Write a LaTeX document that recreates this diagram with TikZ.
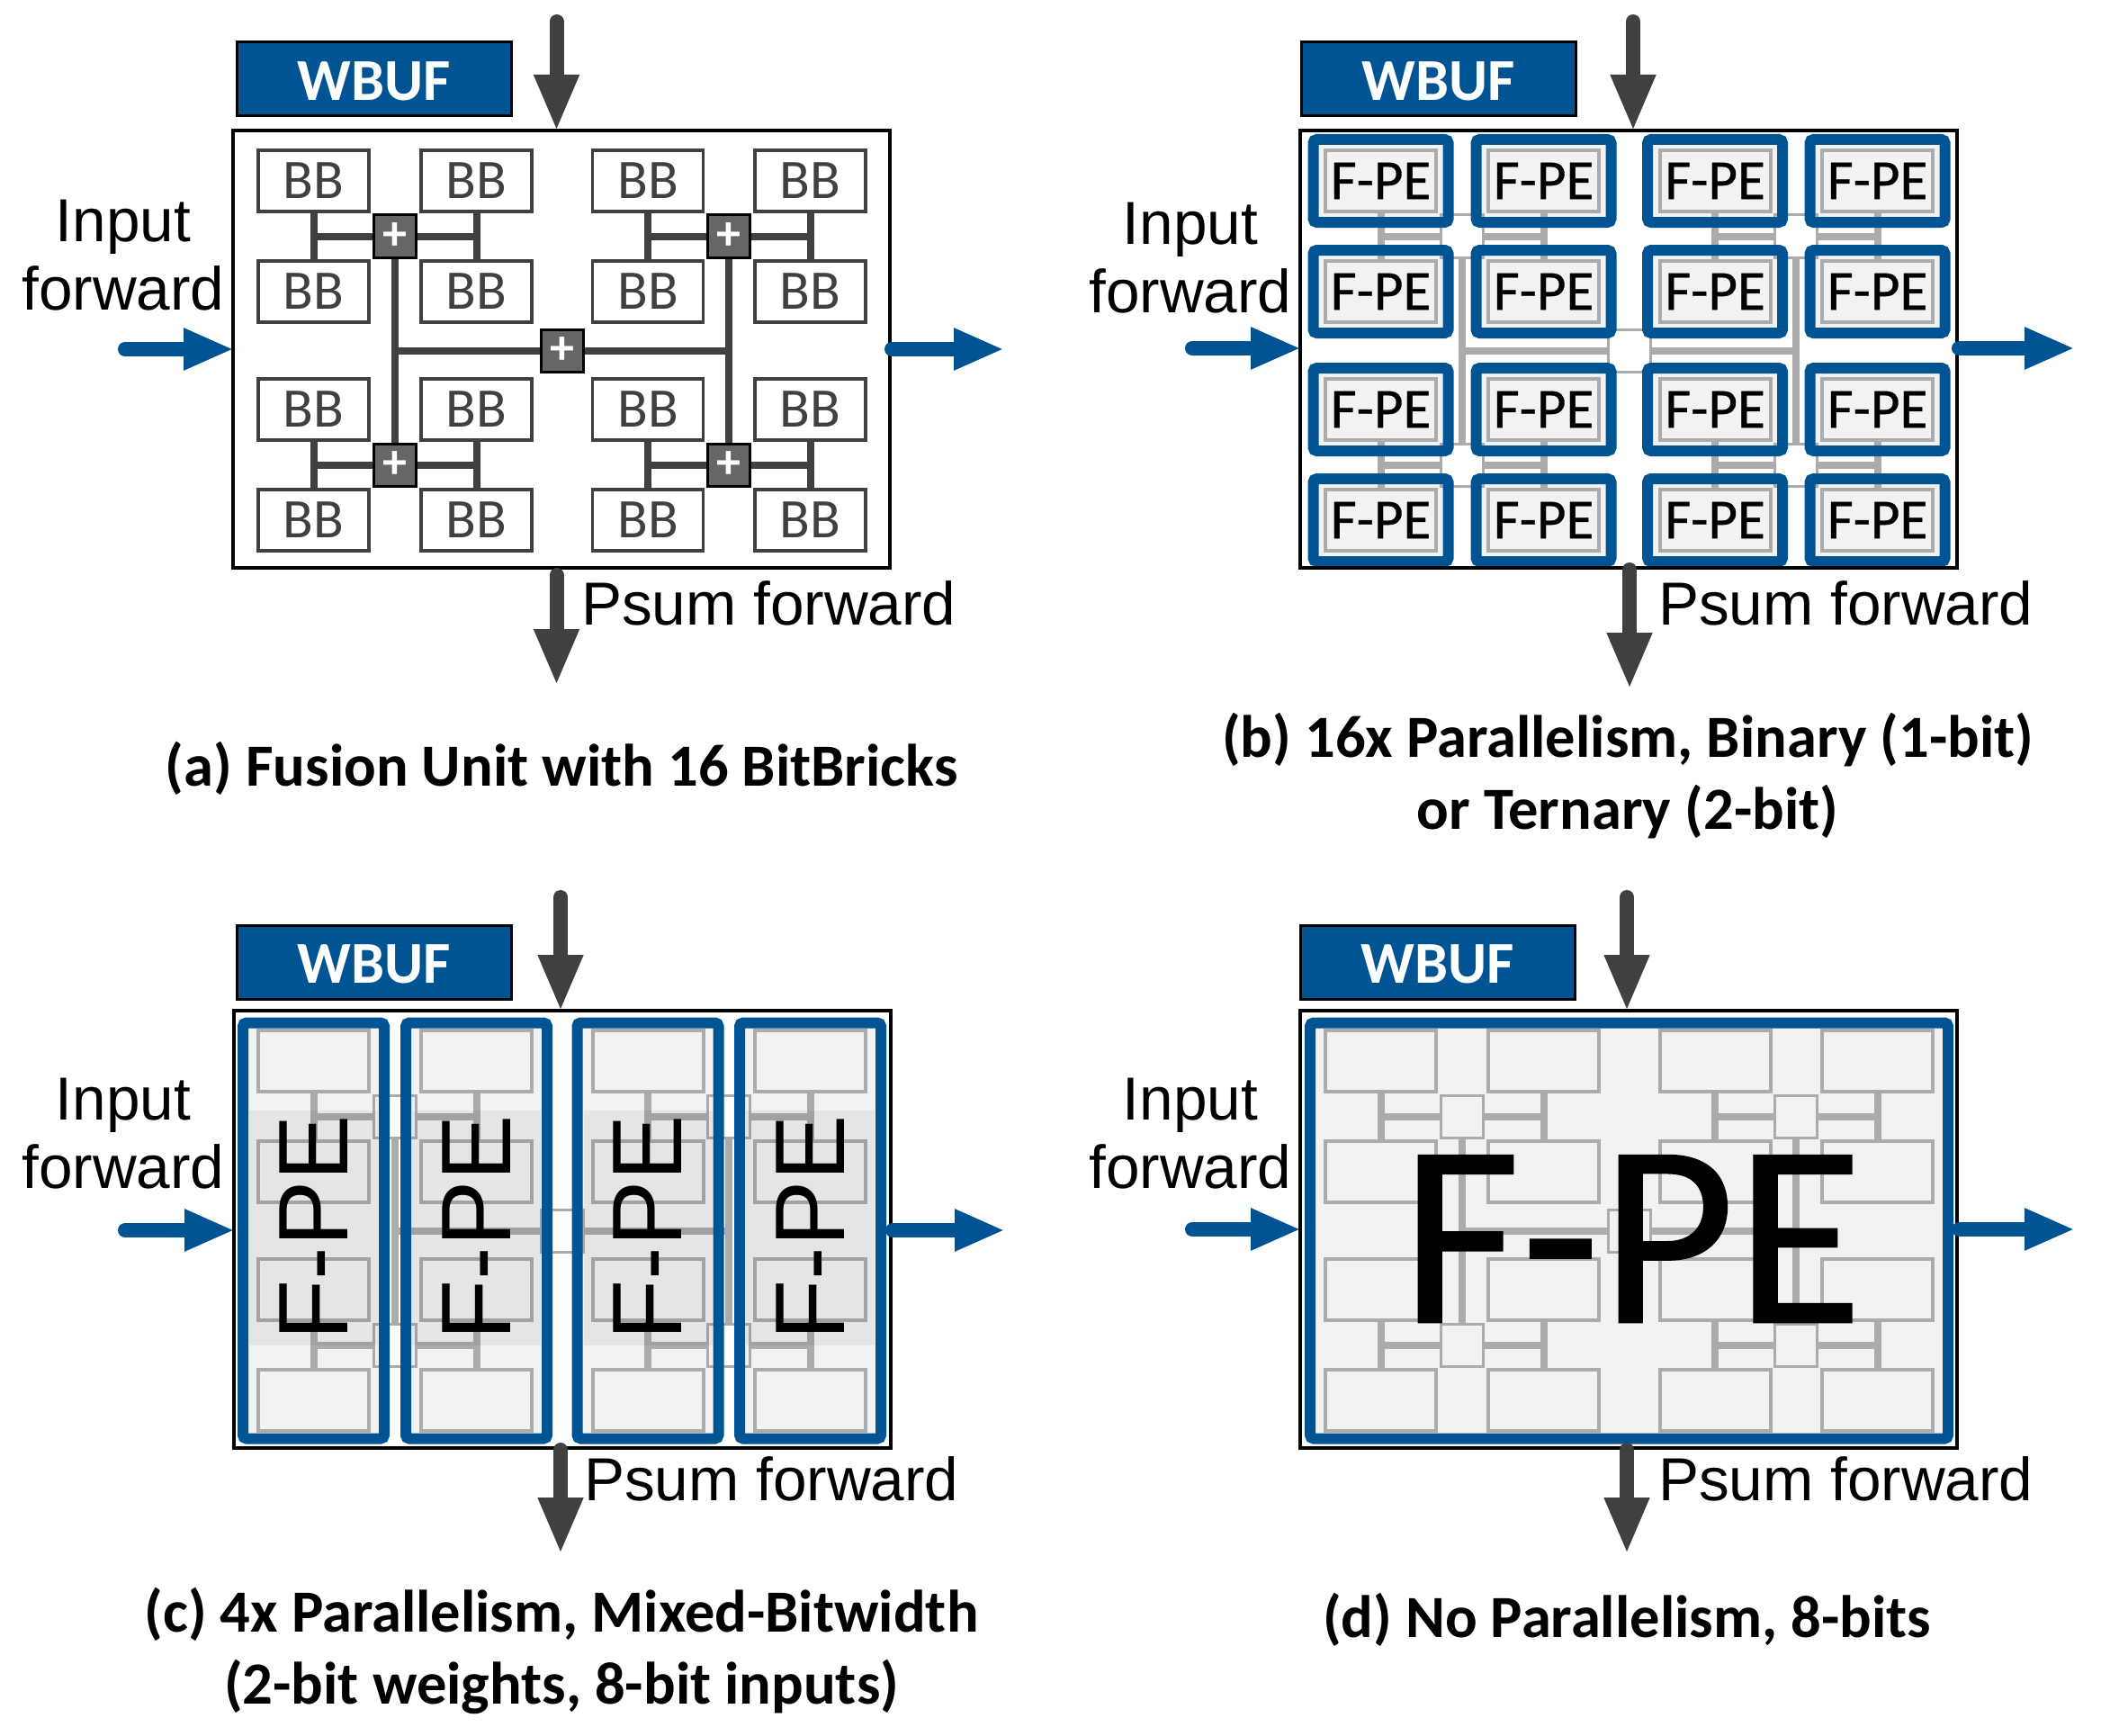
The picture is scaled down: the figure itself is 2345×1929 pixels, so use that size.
\documentclass[tikz,border=0pt]{standalone}
\usepackage{fontspec}
\setmainfont{Liberation Sans}
\newfontfamily\cellfont{Carlito}
\newfontfamily\fpefont[FakeBold=0.5]{Carlito}
\usetikzlibrary{calc,arrows.meta,backgrounds}
\definecolor{unitblue}{HTML}{005493}
\definecolor{darkline}{HTML}{404040}
\definecolor{faintline}{HTML}{ABABAB}
\definecolor{faintfill}{HTML}{F2F2F2}
\tikzset{
  unitframe/.style={draw=black,line width=4pt,minimum width=730pt,minimum height=486pt,inner sep=0pt},
  wbuf/.style={draw=black,line width=3pt,fill=unitblue,text=white,minimum width=305pt,minimum height=82pt,inner sep=0pt,
    text height=47pt,font=\cellfont\bfseries\fontsize{66}{66}\selectfont},
  bbcell/.style={draw=darkline,line width=3.5pt,fill=white,text=darkline,minimum width=123pt,minimum height=68pt,inner sep=0pt,
    font=\cellfont\fontsize{62}{62}\selectfont},
  bbfaint/.style={bbcell,line width=4pt,draw=faintline,fill=faintfill},
  adder/.style={draw=black,line width=3pt,fill=black!60!white,text=white,minimum width=47pt,minimum height=47pt,inner sep=0pt,
    font=\cellfont\bfseries\fontsize{54}{54}\selectfont},
  adderfaint/.style={draw=faintline,line width=3pt,minimum width=47pt,minimum height=47pt,inner sep=0pt},
  wire/.style={draw=darkline,line width=8pt},
  wirefaint/.style={draw=faintline,line width=8pt},
  fpeback/.style={fill=faintfill,rounded corners=4pt,inner sep=0pt},
  fpebox/.style={draw=unitblue,line width=12pt,rounded corners=4pt,inner sep=0pt,text=black},
  fpetext/.style={font=\fpefont\fontsize{63}{63}\selectfont},
  sidelabel/.style={align=center,inner sep=0pt,font=\fontsize{67.5}{76}\selectfont},
  sumlabel/.style={anchor=base west,inner sep=0pt,font=\fontsize{67.5}{76}\selectfont},
  subcaption/.style={align=center,inner sep=0pt,font=\cellfont\bfseries\fontsize{66.5}{80}\selectfont},
  darkarrow/.style={draw=darkline,line width=16pt,line cap=round,shorten >=-3pt,-{Triangle[length=63pt,width=46pt]}},
  bluearrow/.style={draw=unitblue,line width=16pt,line cap=round,shorten >=-3pt,-{Triangle[length=56pt,width=43pt]}},
}
% grid of 16 cells with their adder tree
\newcommand{\fusionlayout}[5]{%
  \foreach \r/\y in {1/201,2/324,3/455,4/578}
    \foreach \c/\x in {1/348.5,2/529.5,3/720,4/900.5}
      \node[#2] (#1\r\c) at (\x,\y) {#5};
  \node[#3] (#1add1) at ($(#111)!.5!(#122)$) {\ifx&#5&\else+\fi};
  \node[#3] (#1add2) at ($(#113)!.5!(#124)$) {\ifx&#5&\else+\fi};
  \node[#3] (#1add3) at ($(#131)!.5!(#142)$) {\ifx&#5&\else+\fi};
  \node[#3] (#1add4) at ($(#133)!.5!(#144)$) {\ifx&#5&\else+\fi};
  \node[#3] (#1hub) at ($(#1add1)!.5!(#1add4)$) {\ifx&#5&\else+\fi};
  \foreach \p/\q/\s in {11/21/1,12/22/1,13/23/2,14/24/2,31/41/3,32/42/3,33/43/4,34/44/4} {
    \draw[#4] (#1\p.south) -- (#1\q.north);
    \draw[#4] ($(#1\p)!.5!(#1\q)$) -- (#1add\s);
  }
  \draw[#4] (#1add1.south) -- (#1add3.north);
  \draw[#4] (#1add2.south) -- (#1add4.north);
  \draw[#4] (#1hub) -- (#1add1 |- #1hub);
  \draw[#4] (#1hub) -- (#1add2 |- #1hub);
}
\begin{document}
\begin{tikzpicture}[x=1pt,y=-1pt]
  \useasboundingbox (0,0) rectangle (2345,1929);

  % (a)
  \fusionlayout{a}{bbcell}{adder}{wire}{BB}
  \node[unitframe] (aframe) at (624,388) {};
  \node[wbuf] (awbuf) at (416,88) {WBUF};
  \node[sidelabel] (aside) at (137,284) {Input\\forward};
  \node[sumlabel] (asum) at (646,694) {Psum forward};
  \coordinate (atop) at (618.5,24);
  \coordinate (abot) at (618.5,759);
  \coordinate (ain) at (139,388);
  \coordinate (aout) at (1113,388);
  \draw[darkarrow] (atop) -- (aframe.north -| atop);
  \draw[darkarrow,shorten <=6pt] (aframe.south -| abot) -- (abot);
  \draw[bluearrow] (ain) -- (aframe.west |- ain);
  \draw[bluearrow] (aframe.east |- aout) -- (aout);
  \node[subcaption] (acap) at (624,854) {(a) Fusion Unit with 16 BitBricks};

  % (b)
  \begin{scope}[shift={(1186,0)}]
    \fusionlayout{b}{bbfaint}{adderfaint}{wirefaint}{}
    \foreach \r in {1,...,4}
      \foreach \c in {1,...,4} {
        \begin{scope}[on background layer]
          \node[fpeback,minimum width=150pt,minimum height=92pt] (bback\r\c) at (b\r\c) {};
        \end{scope}
        \node[fpebox,fpetext,minimum width=150pt,minimum height=92pt] (bfpe\r\c) at (b\r\c) {F-PE};
      }
    \node[unitframe] (bframe) at (624,388) {};
    \node[wbuf] (bwbuf) at (413,88) {WBUF};
  \end{scope}
  \node[sidelabel] (bside) at (1323,287) {Input\\forward};
  \node[sumlabel] (bsum) at (1843,694) {Psum forward};
  \coordinate (btop) at (1815,24);
  \coordinate (bbot) at (1811,763);
  \coordinate (bin) at (1325,387);
  \coordinate (bout) at (2303,387);
  \draw[darkarrow] (btop) -- (bframe.north -| btop);
  \draw[darkarrow] (bframe.south -| bbot) -- (bbot);
  \draw[bluearrow] (bin) -- (bframe.west |- bin);
  \draw[bluearrow] (bframe.east |- bout) -- (bout);
  \node[subcaption] (bcap) at (1809,862) {(b) 16x Parallelism, Binary (1-bit)\\or Ternary (2-bit)};

  % (c)
  \begin{scope}[shift={(0,978)}]
    \fusionlayout{c}{bbfaint}{adderfaint}{wirefaint}{}
    \foreach \c in {1,...,4} {
      \begin{scope}[on background layer]
        \node[fpeback,minimum width=157pt,minimum height=462pt] (cback\c) at ($(c1\c)!.5!(c4\c)$) {};
      \end{scope}
      \node[rotate=90,fill=black,fill opacity=.05,text opacity=1,inner sep=0pt,minimum width=261pt,minimum height=143pt,
        font=\fontsize{110}{110}\selectfont] (cname\c) at ($(c1\c)!.5!(c4\c)+(0,-3)$) {F-PE};
      \node[fpebox,minimum width=157pt,minimum height=462pt] (cfpe\c) at (cback\c) {};
    }
    \node[unitframe] (cframe) at (625,388) {};
    \node[wbuf] (cwbuf) at (416,91) {WBUF};
  \end{scope}
  \node[sidelabel] (cside) at (137,1260) {Input\\forward};
  \node[sumlabel] (csum) at (649,1667) {Psum forward};
  \coordinate (ctop) at (623,997);
  \coordinate (cbot) at (623,1724);
  \coordinate (cin) at (139,1367);
  \coordinate (cout) at (1114,1367);
  \draw[darkarrow] (ctop) -- (cframe.north -| ctop);
  \draw[darkarrow] (cframe.south -| cbot) -- (cbot);
  \draw[bluearrow] (cin) -- (cframe.west |- cin);
  \draw[bluearrow] (cframe.east |- cout) -- (cout);
  \node[subcaption] (ccap) at (624,1834) {(c) 4x Parallelism, Mixed-Bitwidth\\(2-bit weights, 8-bit inputs)};

  % (d)
  \begin{scope}[shift={(1186,978)}]
    \fusionlayout{d}{bbfaint}{adderfaint}{wirefaint}{}
    \begin{scope}[on background layer]
      \node[fpeback,minimum width=709pt,minimum height=462pt] (dback) at ($(d11)!.5!(d44)$) {};
    \end{scope}
    \node[fpebox,minimum width=709pt,minimum height=462pt] (dfpe) at (dback) {};
    \node[inner sep=0pt,font=\fpefont\fontsize{290}{290}\selectfont] (dname) at ($(dback)+(3,9)$) {F-PE};
    \node[unitframe] (dframe) at (624,388) {};
    \node[wbuf] (dwbuf) at (412,91) {WBUF};
  \end{scope}
  \node[sidelabel] (dside) at (1323,1260) {Input\\forward};
  \node[sumlabel] (dsum) at (1843,1667) {Psum forward};
  \coordinate (dtop) at (1808,997);
  \coordinate (dbot) at (1808,1724);
  \coordinate (din) at (1325,1366);
  \coordinate (dout) at (2303,1366);
  \draw[darkarrow] (dtop) -- (dframe.north -| dtop);
  \draw[darkarrow] (dframe.south -| dbot) -- (dbot);
  \draw[bluearrow] (din) -- (dframe.west |- din);
  \draw[bluearrow] (dframe.east |- dout) -- (dout);
  \node[subcaption] (dcap) at (1808,1800) {(d) No Parallelism, 8-bits};
\end{tikzpicture}
\end{document}
